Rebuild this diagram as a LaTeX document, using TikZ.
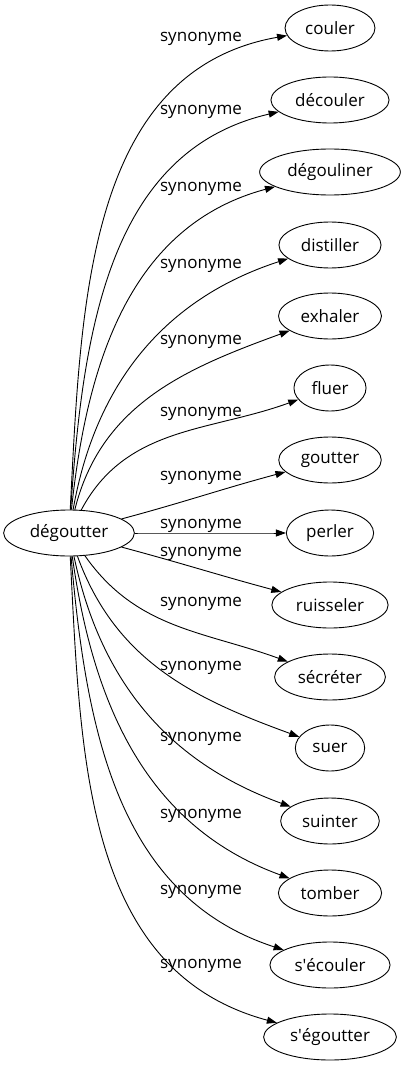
\documentclass[tikz,border=0pt]{standalone}
\usepackage{fontspec}
\setmainfont{Open Sans}
\usetikzlibrary{shapes.geometric,arrows.meta}

\begin{document}
\begin{tikzpicture}[x=1pt,y=1pt]
\tikzstyle{word}=[ellipse,draw,line width=0.9pt,inner xsep=7pt,inner ysep=2pt,minimum height=46pt,font=\fontsize{17}{20}\selectfont]
\tikzstyle{syn}=[line width=0.9pt,-{Triangle[length=10pt,width=7pt]}]
\tikzstyle{lbl}=[font=\fontsize{17}{20}\selectfont,anchor=base,inner sep=0pt]
\useasboundingbox (0,0) rectangle (405,-1067);
\node[word] (root) at (69,-533) {dégoutter};
\foreach \name/\word/\yy/\o/\i/\ly in {
  couler/couler/28/87/190/42,
  decouler/découler/100/86/193/115,
  degouliner/dégouliner/172/84/195/192,
  distiller/distiller/245/80/198/268,
  exhaler/exhaler/316/76/200/344,
  fluer/fluer/388/62/200/416,
  goutter/goutter/460/15/195/480,
  perler/perler/533/0/180/528,
  ruisseler/ruisseler/605/-15/165/556,
  secreter/sécréter/677/-55/160/606,
  suer/suer/748/-70/160/670,
  suinter/suinter/821/-78/160/741,
  tomber/tomber/893/-82/160/818,
  secouler/s\textquotesingle écouler/965/-85/162/894,
  segoutter/s\textquotesingle égoutter/1037/-87/165/968}
{
  \node[word] (\name) at (330,-\yy) {\word};
  \draw[syn] (root) to[out=\o,in=\i] (\name);
  \node[lbl] (l-\name) at (201,-\ly) {synonyme};
}
\end{tikzpicture}
\end{document}
